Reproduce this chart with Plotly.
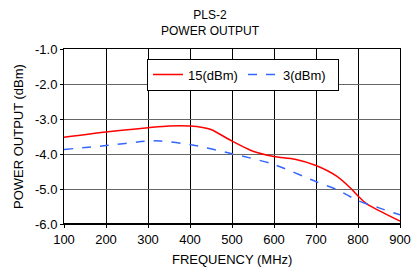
import plotly.graph_objects as go

freq_red = [100, 200, 300, 350, 400, 430, 450, 500, 550, 600, 650, 700, 750, 780, 800, 820, 850, 900]
pout_15 = [-3.52, -3.37, -3.25, -3.2, -3.2, -3.24, -3.3, -3.63, -3.92, -4.07, -4.15, -4.33, -4.64, -4.95, -5.2, -5.42, -5.62, -5.92]
freq_blue = [100, 200, 300, 330, 400, 500, 600, 700, 750, 800, 850, 900]
pout_3 = [-3.87, -3.76, -3.63, -3.63, -3.73, -3.99, -4.3, -4.79, -5.02, -5.33, -5.54, -5.74]
x_ticks = [100, 200, 300, 400, 500, 600, 700, 800, 900]
y_ticks = [-1.0, -2.0, -3.0, -4.0, -5.0, -6.0]

fig = go.Figure()
fig.add_trace(go.Scatter(x=freq_red, y=pout_15, mode="lines", name="15(dBm)",
                         line=dict(color="#ff0000", width=1.5, shape="spline", smoothing=0.8)))
fig.add_trace(go.Scatter(x=freq_blue, y=pout_3, mode="lines", name="3(dBm)",
                         line=dict(color="#3366ff", width=1.5, dash="dash", shape="spline", smoothing=0.8)))

font = "Liberation Sans, Arial, sans-serif"
fig.update_layout(
    width=411, height=268,
    margin=dict(l=64, r=11, t=49, b=44, autoexpand=False),
    paper_bgcolor="white", plot_bgcolor="white",
    font=dict(family=font, size=13, color="black"),
    showlegend=True,
    legend=dict(orientation="h", x=0.247, y=0.945, xanchor="left", yanchor="top",
                bordercolor="black", borderwidth=1, bgcolor="white",
                font=dict(family=font, size=13), entrywidth=50, itemwidth=30,
                tracegroupgap=0),
    xaxis=dict(range=[100, 900], tickvals=x_ticks, ticktext=[str(v) for v in x_ticks],
               showgrid=True, gridcolor="black", gridwidth=1, zeroline=False,
               showline=True, linecolor="black", linewidth=1, mirror=True,
               ticks="outside", ticklen=3, tickcolor="black",
               automargin=False, tickfont=dict(size=13)),
    yaxis=dict(range=[-6.0, -1.0], tickvals=y_ticks, ticktext=[f"{v:.1f}" for v in y_ticks],
               showgrid=True, gridcolor="#666666", gridwidth=1.3, zeroline=False,
               showline=True, linecolor="black", linewidth=1, mirror=True,
               ticks="outside", ticklen=3, tickcolor="black",
               automargin=False, tickfont=dict(size=13)),
    shapes=[dict(type="line", xref="paper", yref="paper", x0=0, x1=1, y0=0, y1=0,
                 line=dict(color="black", width=2))],
    annotations=[
        dict(text="PLS-2<br>POWER OUTPUT", xref="paper", yref="paper", x=(210-64)/336, y=(224-6)/175,
             xanchor="center", yanchor="top", showarrow=False, font=dict(size=12)),
        dict(text="FREQUENCY (MHz)", xref="paper", yref="paper", x=(232-64)/336, y=(224-250)/175,
             xanchor="center", yanchor="top", showarrow=False, font=dict(size=13)),
        dict(text="POWER OUTPUT (dBm)", xref="paper", yref="paper", x=(9-64)/336, y=0.5,
             xanchor="left", yanchor="middle", textangle=-90, showarrow=False, font=dict(size=13)),
    ],
)
fig.write_html("out.html", config={"displayModeBar": False},
               post_script="document.body.style.margin='0';document.body.style.overflow='hidden';")
